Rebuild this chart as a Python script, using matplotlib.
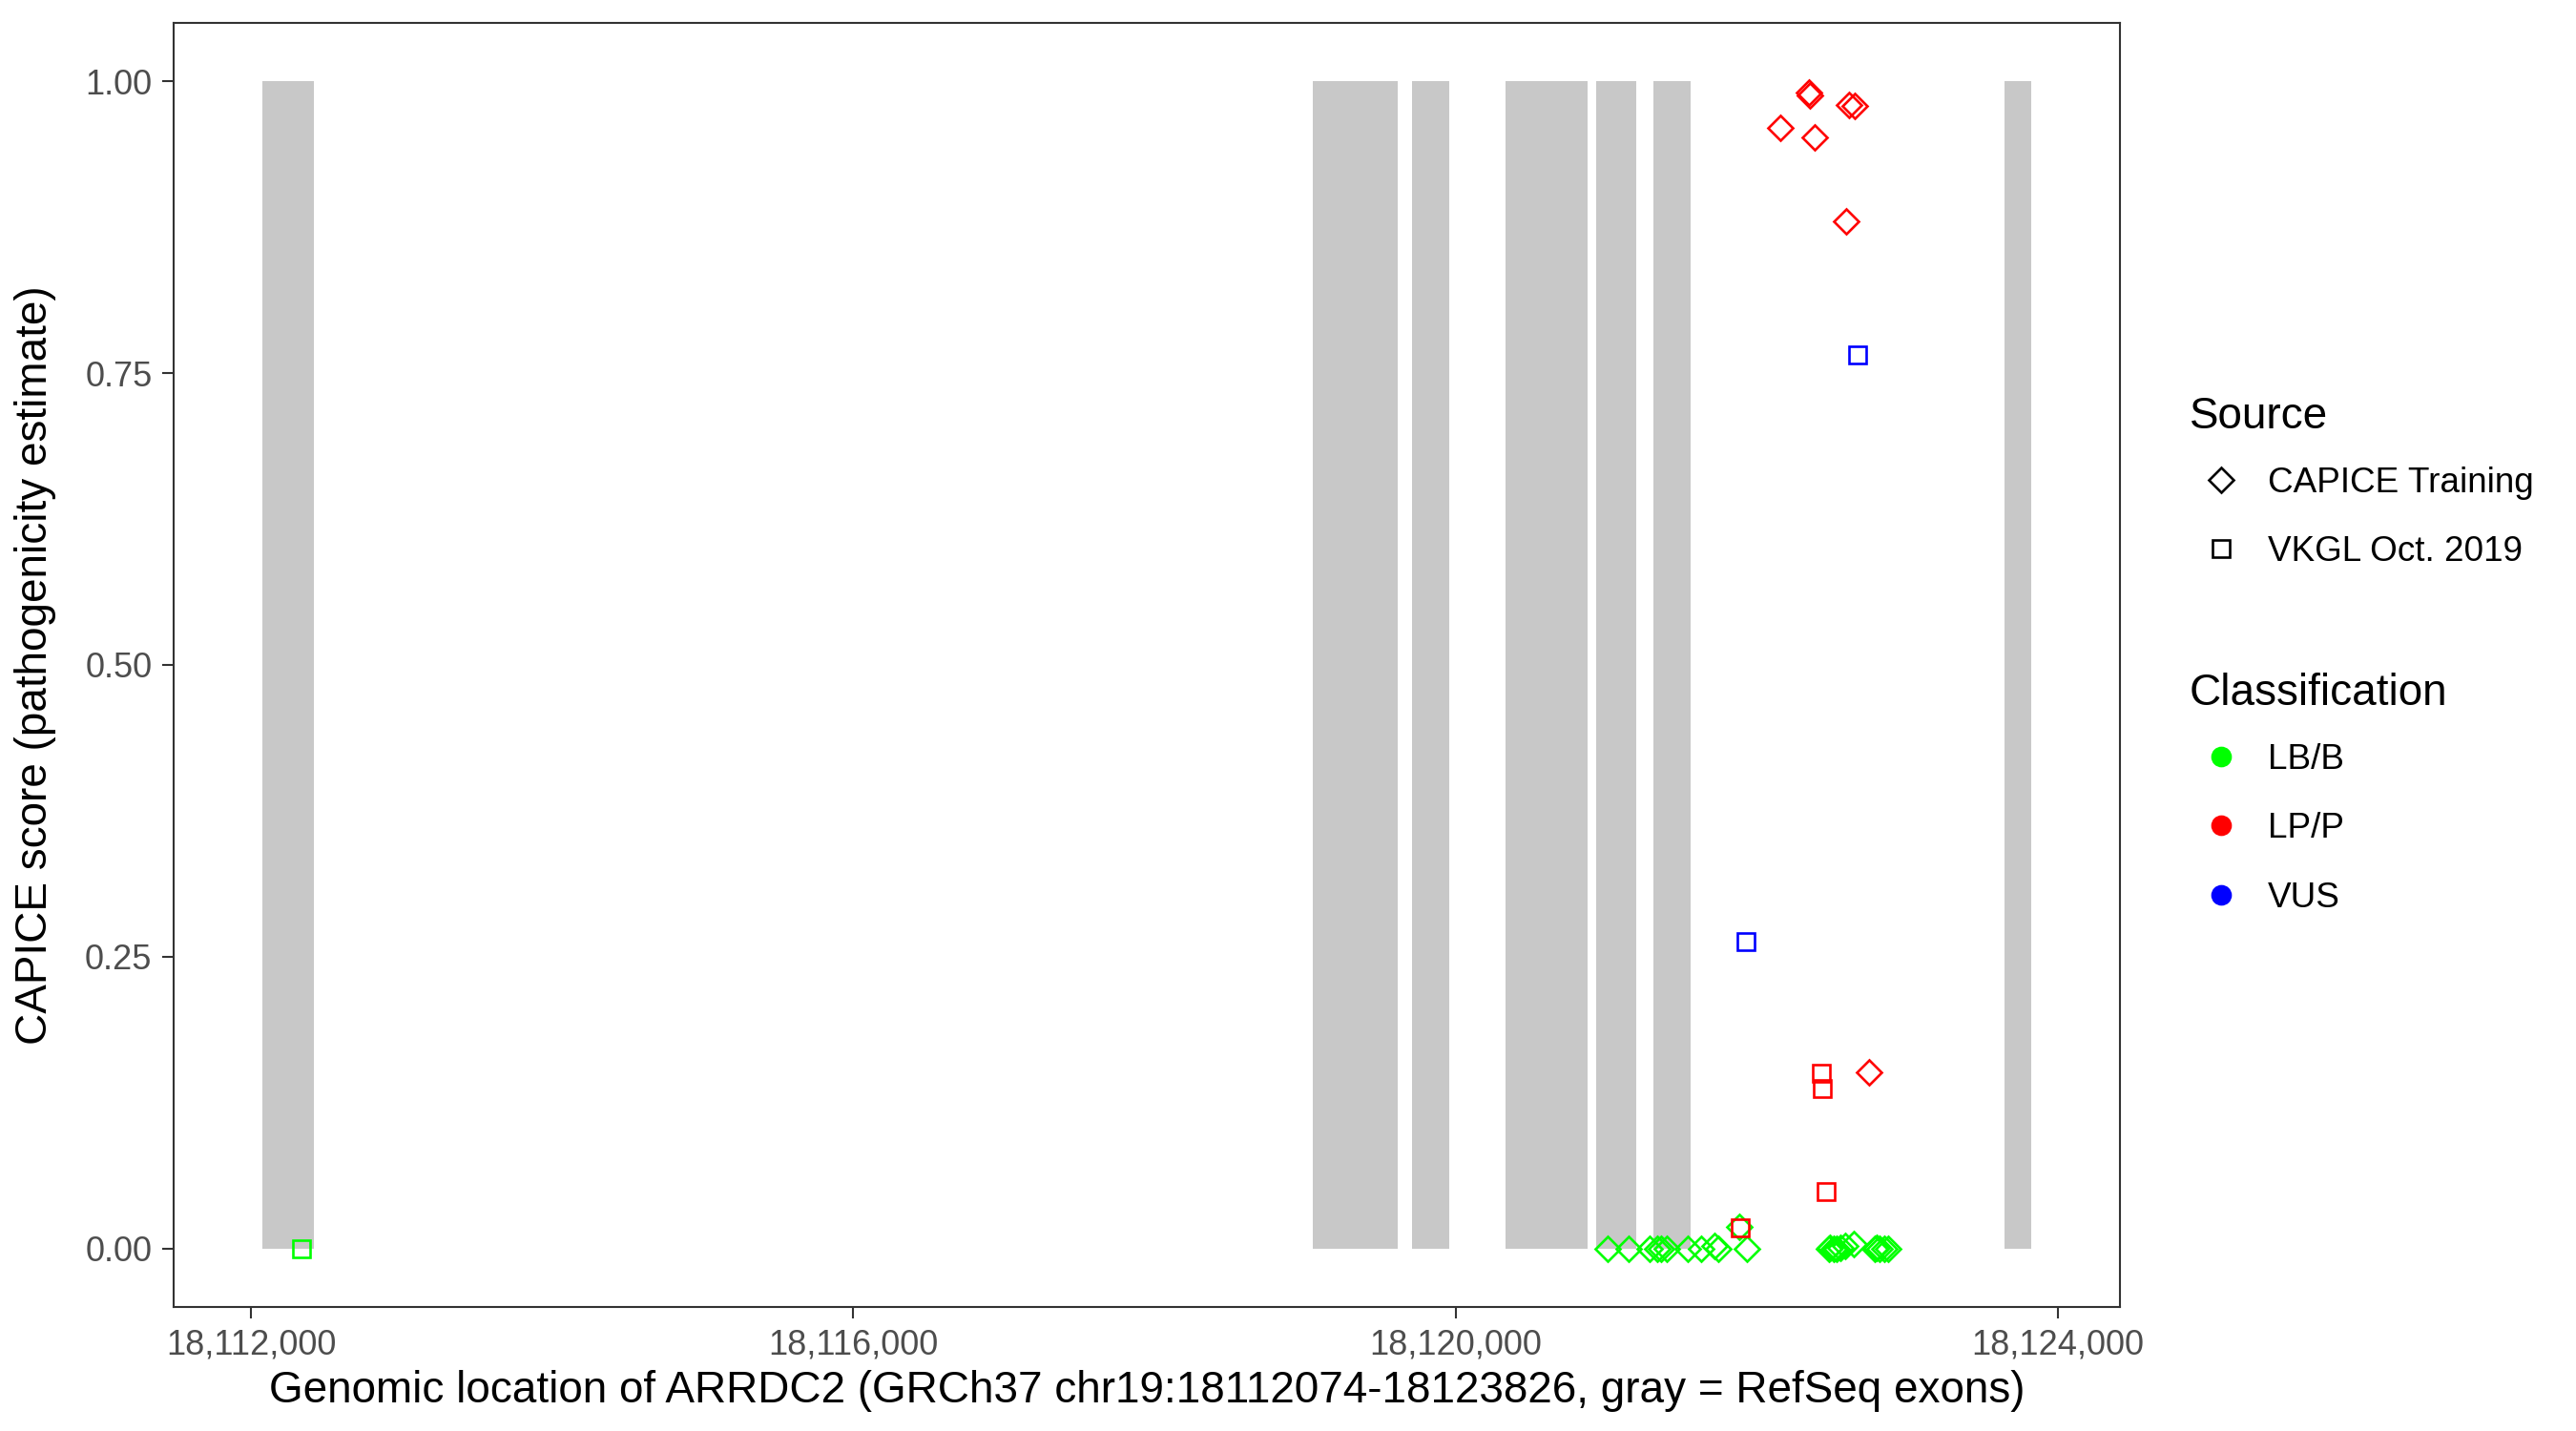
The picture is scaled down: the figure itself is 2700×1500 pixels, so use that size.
import matplotlib
matplotlib.use("Agg")
import matplotlib.pyplot as plt
from matplotlib.lines import Line2D
from matplotlib.ticker import FuncFormatter

plt.rcParams['font.family'] = ['Liberation Sans', 'DejaVu Sans']

# gene region and RefSeq exons (GRCh37 chr19)
gene_start, gene_end = 18112074, 18123826
exon_start = [18112074, 18119053, 18119711, 18120331, 18120932, 18121312, 18123646]
exon_end = [18112418, 18119616, 18119958, 18120875, 18121198, 18121565, 18123826]

# CAPICE training variants (diamonds)
capice_pos = [18122350, 18122355, 18122612, 18122650, 18122156, 18122384, 18122593, 18122745,
              18121008, 18121152, 18121289, 18121342, 18121363, 18121401, 18121542, 18121633,
              18121722, 18121747, 18121937, 18121888, 18122481, 18122490, 18122513, 18122532,
              18122560, 18122587, 18122646, 18122785, 18122800, 18122816, 18122848, 18122872]
capice_score = [0.990, 0.988, 0.980, 0.979, 0.960, 0.952, 0.880, 0.151,
                0.0, 0.0, 0.0, 0.0, 0.0, 0.0, 0.0, 0.0,
                0.002, 0.0, 0.0, 0.019, 0.0, 0.001, 0.0, 0.0,
                0.001, 0.002, 0.004, 0.0, 0.001, 0.0, 0.0, 0.0]
capice_class = ['LP/P'] * 8 + ['LB/B'] * 24

# VKGL Oct. 2019 variants (squares)
vkgl_pos = [18112333, 18121894, 18122428, 18122435, 18122460, 18121932, 18122673]
vkgl_score = [0.0, 0.018, 0.150, 0.137, 0.049, 0.263, 0.766]
vkgl_class = ['LB/B', 'LP/P', 'LP/P', 'LP/P', 'LP/P', 'VUS', 'VUS']

classes = ['LB/B', 'LP/P', 'VUS']
class_colors = {'LB/B': '#00FF00', 'LP/P': '#FF0000', 'VUS': '#0000FF'}
sources = ['CAPICE Training', 'VKGL Oct. 2019']
source_markers = {'CAPICE Training': 'D', 'VKGL Oct. 2019': 's'}

fig = plt.figure(figsize=(13.5, 7.5), dpi=200)
ax = fig.add_axes([182 / 2700, 1 - 1370 / 1500, (2222 - 182) / 2700, (1370 - 24) / 1500])

# exons as gray bars from 0 to 1
widths = [e - s for s, e in zip(exon_start, exon_end)]
ax.bar(exon_start, [1] * len(exon_start), width=widths, align='edge', bottom=0,
       color='#C8C8C8', linewidth=0, zorder=1)

data = [('CAPICE Training', capice_pos, capice_score, capice_class),
        ('VKGL Oct. 2019', vkgl_pos, vkgl_score, vkgl_class)]
for src, pos, score, cls in data:
    for c in classes:
        xs = [p for p, k in zip(pos, cls) if k == c]
        ys = [s for s, k in zip(score, cls) if k == c]
        if xs:
            ax.plot(xs, ys, linestyle='none', marker=source_markers[src], markersize=6.4,
                    markerfacecolor='none', markeredgecolor=class_colors[c],
                    markeredgewidth=0.95, zorder=3)

pad = 0.05 * (gene_end - gene_start)
ax.set_xlim(gene_start - pad, gene_end + pad)
ax.set_ylim(-0.05, 1.05)
ax.set_xticks([18112000, 18116000, 18120000, 18124000])
ax.xaxis.set_major_formatter(FuncFormatter(lambda v, p: f"{int(round(v)):,}"))
ax.set_yticks([0, 0.25, 0.5, 0.75, 1.0])
ax.yaxis.set_major_formatter(FuncFormatter(lambda v, p: f"{v:.2f}"))
ax.tick_params(axis='both', length=4.3, width=0.75, color='#333333',
               labelsize=13, labelcolor='#4D4D4D', pad=3.8)
for sp in ax.spines.values():
    sp.set_color('#333333')
    sp.set_linewidth(0.75)

ax.set_xlabel('Genomic location of ARRDC2 (GRCh37 chr19:18112074-18123826, gray = RefSeq exons)',
              fontsize=16.5, labelpad=3)
ax.set_ylabel('CAPICE score (pathogenicity estimate)', fontsize=16.5, labelpad=11)

# legends (titles drawn as separate text so the title gap can be set on its own)
leg_kw = dict(loc='upper left', bbox_transform=fig.transFigure, frameon=False,
              fontsize=13.3, borderpad=0, borderaxespad=0, handlelength=1.81,
              handletextpad=0.4, labelspacing=1.01)
legend_x = 2295 / 2700

fig.text(legend_x, 1 - 415 / 1500, 'Source', fontsize=16.5, ha='left', va='top')
src_handles = [Line2D([], [], linestyle='none', marker=source_markers[s], markersize=6.4,
                      markerfacecolor='none', markeredgecolor='black', markeredgewidth=0.95)
               for s in sources]
leg1 = ax.legend(src_handles, sources, bbox_to_anchor=(legend_x, 1 - 489 / 1500), **leg_kw)
ax.add_artist(leg1)

fig.text(legend_x, 1 - 705 / 1500, 'Classification', fontsize=16.5, ha='left', va='top')
cls_handles = [Line2D([], [], linestyle='none', marker='o', markersize=6.8,
                      markerfacecolor=class_colors[c], markeredgecolor=class_colors[c])
               for c in classes]
ax.legend(cls_handles, classes, bbox_to_anchor=(legend_x, 1 - 779 / 1500), **leg_kw)

fig.savefig('out.png', dpi=200)
